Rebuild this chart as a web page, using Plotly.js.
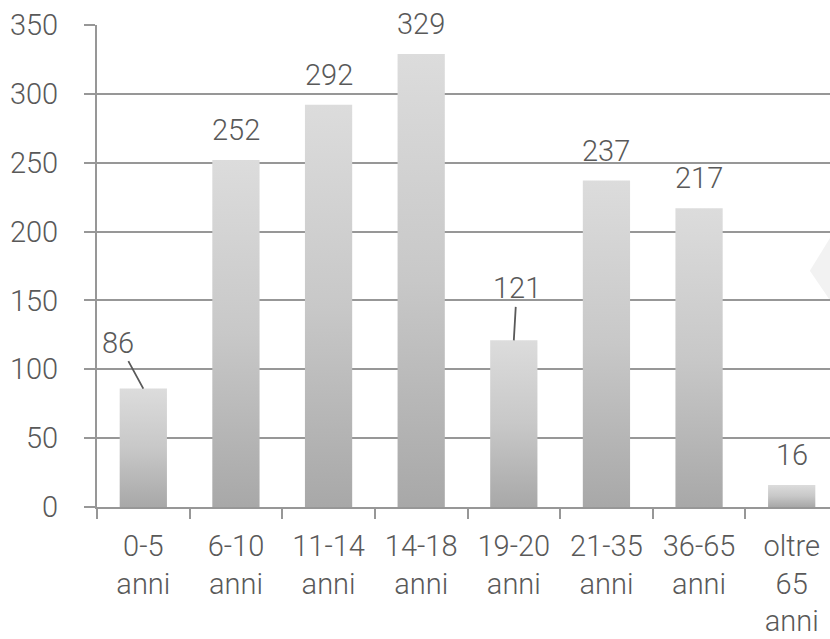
<!DOCTYPE html>
<html>
<head>
<meta charset="utf-8">
<script src="https://cdn.plot.ly/plotly-3.0.1.min.js"></script>
<style>
html, body { margin: 0; padding: 0; overflow: hidden; background: #ffffff; }
#chart { width: 842px; height: 639px; }
</style>
</head>
<body>
<div id="chart"></div>
<script>
var categories = ['0-5<br>anni', '6-10<br>anni', '11-14<br>anni', '14-18<br>anni', '19-20<br>anni', '21-35<br>anni', '36-65<br>anni', 'oltre<br>65<br>anni'];
var values = [86, 252, 292, 329, 121, 237, 217, 16];
var yTicks = [0, 50, 100, 150, 200, 250, 300, 350];

var textColor = '#595959';
var gridColor = '#979797';
var fontFamily = 'Roboto, "Noto Sans", sans-serif';
var fontWeight = 300;

// labels with leader lines (index -> pixel offset of the label)
var leaderOffsets = { 0: [-25, -46], 4: [3, -52] };

var annotations = values.map(function (v, i) {
  var base = {
    x: categories[i], y: v, xref: 'x', yref: 'y',
    text: String(v),
    font: { family: fontFamily, size: 29, color: textColor, weight: fontWeight }
  };
  if (leaderOffsets[i]) {
    base.showarrow = true;
    base.ax = leaderOffsets[i][0];
    base.ay = leaderOffsets[i][1];
    base.arrowhead = 0;
    base.arrowwidth = 1.8;
    base.arrowcolor = textColor;
    base.standoff = 0;
  } else {
    base.showarrow = false;
    base.yanchor = 'middle';
    base.yshift = 30;
  }
  return base;
});

var trace = {
  type: 'bar',
  x: categories,
  y: values,
  marker: { color: '#c4c4c4', line: { width: 0 } },
  width: 0.51,
  hoverinfo: 'none'
};

var layout = {
  width: 842,
  height: 639,
  margin: { l: 97, r: 4, t: 25, b: 132 },
  paper_bgcolor: '#ffffff',
  plot_bgcolor: '#ffffff',
  showlegend: false,
  font: { family: fontFamily, size: 29, color: textColor, weight: fontWeight },
  xaxis: {
    type: 'category',
    tickson: 'boundaries',
    ticks: 'outside',
    ticklen: 10,
    tickwidth: 2,
    tickcolor: gridColor,
    showgrid: false,
    showline: true,
    linecolor: gridColor,
    linewidth: 2,
    ticklabelstandoff: 12,
    tickfont: { family: fontFamily, size: 29, color: textColor, weight: fontWeight },
    fixedrange: true
  },
  yaxis: {
    range: [0, 350],
    tickvals: yTicks,
    ticktext: yTicks.map(String),
    ticks: 'outside',
    ticklen: 11,
    tickwidth: 2,
    tickcolor: gridColor,
    showgrid: true,
    gridcolor: gridColor,
    gridwidth: 2,
    zeroline: false,
    showline: true,
    linecolor: gridColor,
    linewidth: 2,
    ticklabelstandoff: 20,
    tickfont: { family: fontFamily, size: 29, color: textColor, weight: fontWeight },
    fixedrange: true
  },
  annotations: annotations,
  shapes: [{
    type: 'path',
    xref: 'paper', yref: 'paper',
    path: 'M 0.962 0.49 L 1.0 0.585 L 1.0 0.405 Z',
    fillcolor: '#f2f2f2',
    line: { width: 0 },
    layer: 'below'
  }]
};

Plotly.newPlot('chart', [trace], layout, { displayModeBar: false, staticPlot: true }).then(function (gd) {
  var svg = gd.querySelector('svg.main-svg');
  var ns = 'http://www.w3.org/2000/svg';
  var defs = svg.querySelector('defs') || svg.insertBefore(document.createElementNS(ns, 'defs'), svg.firstChild);
  var grad = document.createElementNS(ns, 'linearGradient');
  grad.setAttribute('id', 'barGrad');
  grad.setAttribute('x1', '0'); grad.setAttribute('y1', '0');
  grad.setAttribute('x2', '0'); grad.setAttribute('y2', '1');
  [['0', '#dcdcdc'], ['0.5', '#c8c8c8'], ['1', '#a8a8a8']].forEach(function (s) {
    var st = document.createElementNS(ns, 'stop');
    st.setAttribute('offset', s[0]);
    st.setAttribute('stop-color', s[1]);
    grad.appendChild(st);
  });
  defs.appendChild(grad);
  gd.querySelectorAll('.trace.bars .point path').forEach(function (p) {
    p.style.fill = 'url(#barGrad)';
  });
});
</script>
</body>
</html>
